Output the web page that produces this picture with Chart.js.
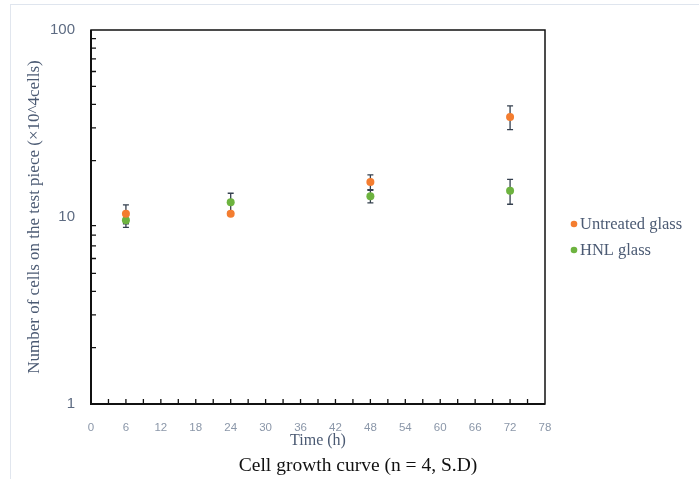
<!DOCTYPE html>
<html lang="en">
<head>
    <meta charset="UTF-8">
    <title>Cell growth curve</title>
    <script src="https://cdn.jsdelivr.net/npm/chart.js@4.4.1/dist/chart.umd.min.js"></script>
    <style>
        html, body { margin: 0; padding: 0; background: #fff; overflow: hidden; }
        .frame {
            position: absolute; left: 10px; top: 4px; width: 720px; height: 500px;
            border-left: 1px solid #e1e6ee; border-top: 1px solid #dfe5ee;
        }
        .wrap { position: absolute; left: 0; top: 0; width: 699px; height: 479px; }
    </style>
</head>
<body>
    <div class="frame"></div>
    <div class="wrap"><canvas id="growth"></canvas></div>

    <script>
        // data
        const hours = [6, 24, 48, 72];
        const untreated = [10.4, 10.4, 15.4, 34.3];
        const untreatedSD = [1.2, 0.2, 1.4, 5.0];
        const hnl = [9.6, 12.0, 12.9, 13.8];
        const hnlSD = [0.8, 1.4, 1.0, 2.1];

        const seriesNames = ['Untreated glass', 'HNL glass'];
        const seriesColors = ['#f47d30', '#6db33f'];

        // axis ticks
        const xTicks = [0, 6, 12, 18, 24, 30, 36, 42, 48, 54, 60, 66, 72, 78];
        const xMinorTicks = [3, 9, 15, 21, 27, 33, 39, 45, 51, 57, 63, 69, 75];
        const yLabels = [1, 10, 100];
        const yMinorTicks = [2, 3, 4, 5, 6, 7, 8, 9, 20, 30, 40, 50, 60, 70, 80, 90];

        const xTitle = 'Time (h)';
        const yTitle = 'Number of cells on the test piece (×10^4cells)';
        const caption = 'Cell growth curve (n = 4, S.D)';

        const serif = '"Liberation Serif", "Times New Roman", serif';
        const sans = '"Liberation Sans", Arial, sans-serif';

        function toPoints(xs, ys, sd) {
            return xs.map((x, i) => ({ x: x, y: ys[i], sd: sd[i] }));
        }

        // frame, inner ticks, error bars, titles and legend
        const decorations = {
            id: 'decorations',
            beforeDatasetsDraw(chart) {
                const c = chart.ctx;
                const xs = chart.scales.x, ys = chart.scales.y;
                // error bars
                c.save();
                c.strokeStyle = '#35404f';
                c.lineWidth = 1.3;
                chart.data.datasets.forEach(ds => {
                    ds.data.forEach(p => {
                        const px = xs.getPixelForValue(p.x);
                        const top = ys.getPixelForValue(p.y + p.sd);
                        const bot = ys.getPixelForValue(p.y - p.sd);
                        c.beginPath();
                        c.moveTo(px, top); c.lineTo(px, bot);
                        c.moveTo(px - 3, top); c.lineTo(px + 3, top);
                        c.moveTo(px - 3, bot); c.lineTo(px + 3, bot);
                        c.stroke();
                    });
                });
                c.restore();
            },
            afterDraw(chart) {
                const c = chart.ctx;
                const a = chart.chartArea;
                const xs = chart.scales.x, ys = chart.scales.y;
                c.save();
                // box
                c.strokeStyle = '#111';
                c.lineWidth = 1.5;
                c.strokeRect(a.left, a.top, a.right - a.left, a.bottom - a.top);
                c.lineWidth = 2;
                c.beginPath();
                c.moveTo(a.left, a.top); c.lineTo(a.left, a.bottom); c.lineTo(a.right, a.bottom);
                c.stroke();
                // inner ticks
                c.lineWidth = 1.3;
                c.beginPath();
                xTicks.concat(xMinorTicks).forEach(v => {
                    const px = xs.getPixelForValue(v);
                    if (v === 0 || v === 78) return;
                    c.moveTo(px, a.bottom); c.lineTo(px, a.bottom - 5);
                });
                yMinorTicks.forEach(v => {
                    const py = ys.getPixelForValue(v);
                    c.moveTo(a.left, py); c.lineTo(a.left + 5, py);
                });
                c.stroke();

                // axis titles
                c.fillStyle = '#4b5a73';
                c.font = '16px ' + serif;
                c.textAlign = 'center';
                c.textBaseline = 'middle';
                c.fillText(xTitle, (a.left + a.right) / 2, 441);
                c.save();
                c.translate(35, (a.top + a.bottom) / 2);
                c.rotate(-Math.PI / 2);
                c.font = '17px ' + serif;
                c.fillText(yTitle, 0, 0);
                c.restore();

                // caption
                c.fillStyle = '#111';
                c.font = '19.5px ' + serif;
                c.fillText(caption, 358, 466);

                // legend
                c.textAlign = 'left';
                c.font = '16.5px ' + serif;
                chart.data.datasets.forEach((ds, i) => {
                    const y = 224 + i * 26;
                    c.fillStyle = ds.backgroundColor;
                    c.beginPath();
                    c.arc(574, y, 3.3, 0, Math.PI * 2);
                    c.fill();
                    c.fillStyle = '#4b5a73';
                    c.fillText(ds.label, 580, y + 1);
                });
                c.restore();
            }
        };

        const ctx = document.getElementById('growth').getContext('2d');
        new Chart(ctx, {
            type: 'scatter',
            data: {
                datasets: [
                    {
                        label: seriesNames[0],
                        data: toPoints(hours, untreated, untreatedSD),
                        backgroundColor: seriesColors[0],
                        borderColor: seriesColors[0],
                        pointRadius: 4,
                        borderWidth: 0
                    },
                    {
                        label: seriesNames[1],
                        data: toPoints(hours, hnl, hnlSD),
                        backgroundColor: seriesColors[1],
                        borderColor: seriesColors[1],
                        pointRadius: 4,
                        borderWidth: 0
                    }
                ]
            },
            options: {
                responsive: true,
                maintainAspectRatio: false,
                animation: false,
                layout: { padding: { left: 0, right: 154, top: 30, bottom: 0 } },
                plugins: {
                    legend: { display: false },
                    tooltip: { enabled: false }
                },
                scales: {
                    x: {
                        type: 'linear',
                        min: 0,
                        max: 78,
                        afterFit: s => { s.height = 75; },
                        afterBuildTicks: s => { s.ticks = xTicks.map(v => ({ value: v })); },
                        grid: { display: false, drawTicks: false },
                        border: { display: false },
                        ticks: {
                            padding: 17,
                            color: '#8b97a9',
                            font: { family: sans, size: 11.5 }
                        }
                    },
                    y: {
                        type: 'logarithmic',
                        min: 1,
                        max: 100,
                        afterFit: s => { s.width = 91; },
                        afterBuildTicks: s => { s.ticks = yLabels.map(v => ({ value: v, major: true })); },
                        grid: { display: false, drawTicks: false },
                        border: { display: false },
                        ticks: {
                            padding: 16,
                            color: '#5d6b82',
                            font: { family: sans, size: 15 },
                            callback: v => String(v)
                        }
                    }
                }
            },
            plugins: [decorations]
        });
    </script>
</body>
</html>
